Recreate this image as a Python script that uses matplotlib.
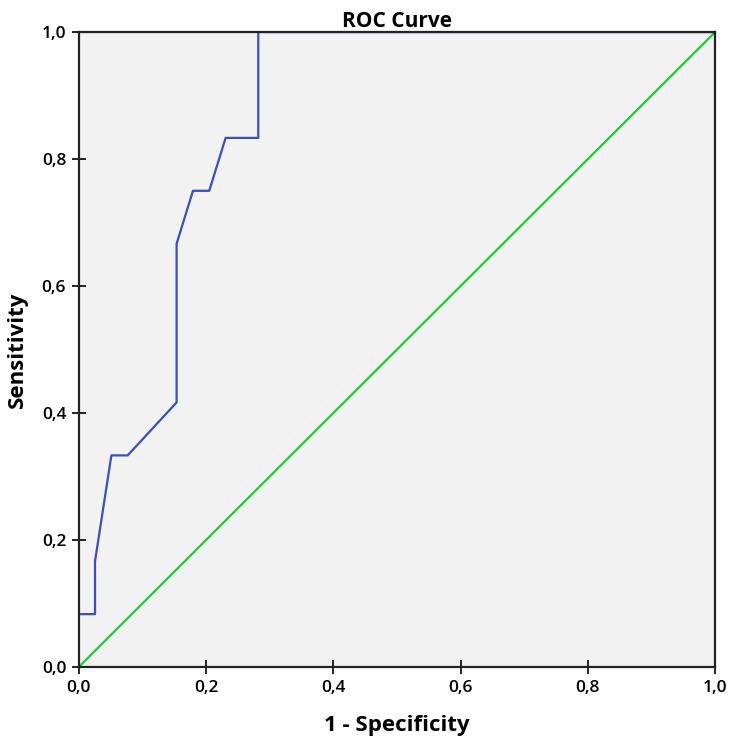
import matplotlib
matplotlib.use("Agg")
import matplotlib.pyplot as plt
from matplotlib.ticker import FuncFormatter

# ROC points (1 - specificity, sensitivity)
fpr = [0.0, 0.0, 0.0256, 0.0256, 0.0513, 0.0769, 0.1538, 0.1538, 0.1795, 0.2051, 0.2308, 0.2821, 0.2821, 1.0]
tpr = [0.0, 0.0833, 0.0833, 0.1667, 0.3333, 0.3333, 0.4167, 0.6667, 0.75, 0.75, 0.8333, 0.8333, 1.0, 1.0]
ref_line = [0.0, 1.0]
ticks = [0.0, 0.2, 0.4, 0.6, 0.8, 1.0]

plt.rcParams['font.family'] = ['Open Sans', 'DejaVu Sans']

fig = plt.figure(figsize=(7.29, 7.40), dpi=100)
ax = fig.add_axes([0.108, 0.0986, 0.873, 0.8581])
ax.set_facecolor('#f2f2f2')

ax.plot(ref_line, ref_line, color='#1fc93c', lw=1.6, zorder=2)
ax.plot(fpr, tpr, color='#3a4fb8', lw=1.6, zorder=2.2)

ax.set_xlim(0, 1)
ax.set_ylim(0, 1)
ax.set_xticks(ticks)
ax.set_yticks(ticks)
fmt = FuncFormatter(lambda v, p: f"{v:.1f}".replace('.', ','))
ax.xaxis.set_major_formatter(fmt)
ax.yaxis.set_major_formatter(fmt)
ax.tick_params(direction='inout', length=10, width=1.2, labelsize=12.5, pad=4)
for lab in ax.get_xticklabels() + ax.get_yticklabels():
    lab.set_fontweight('semibold')

for s in ax.spines.values():
    s.set_linewidth(1.6)
    s.set_color('#222222')
    s.set_zorder(4)

ax.set_title('ROC Curve', fontsize=15, fontweight='bold', pad=3)
ax.set_xlabel('1 - Specificity', fontsize=16, fontweight='bold', labelpad=14)
ax.set_ylabel('Sensitivity', fontsize=16, fontweight='bold', labelpad=10)

fig.savefig('out.png', dpi=100)
